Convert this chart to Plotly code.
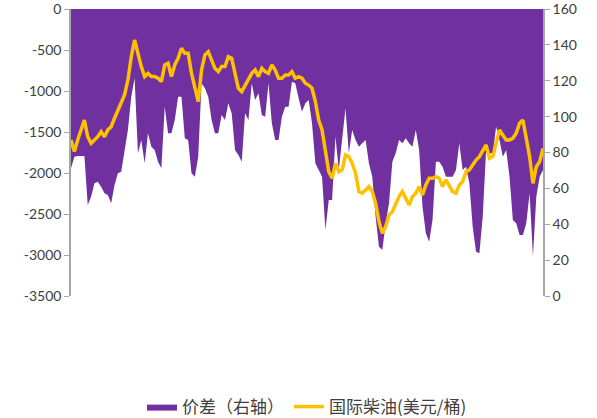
import plotly.graph_objects as go

# Price spread (plotted on left axis, filled up to 0 at top)
spread = [
    -1943, -1801, -1793, -1793, -1793, -2390, -2289, -2126, -2106, -2167,
    -2248, -2268, -2370, -2146, -2004, -1984, -1719, -1476, -1069, -845,
    -1760, -1597, -1882, -1516, -1679, -1719, -1862, -1943, -1191, -1516,
    -1516, -1354, -1069, -1069, -1577, -1597,
    -2004, -2045, -1801, -906, -967, -1069, -1354, -1516, -1516, -1293,
    -1354, -1150, -1272, -1719, -1780, -1862, -1272, -1354, -906, -1110,
    -1028, -1293, -1313, -906, -1394, -1597, -1597, -1313, -1191, -1191,
    -886, -906, -1089, -1252,
    -1150, -1110, -1394, -1882, -1963, -2045, -2695, -2329, -2329, -1557,
    -1963, -1597, -1211, -1760, -1476, -1597, -1679, -1638, -1597, -1882,
    -2045, -2532, -2898, -2939, -2614, -2370, -1862, -1760, -1597, -1638,
    -1577, -1638, -1679, -1476, -1719,
    -2410, -2736, -2837, -2573, -1862, -1862, -1923, -2045, -2045, -2045,
    -1963, -1638, -1963, -1923, -2126, -2654, -2959, -2980, -2532, -1719,
    -1760, -1760, -1435, -1597, -1801, -1719, -2045, -2573, -2614, -2756,
    -2756, -2614, -2248, -3020, -2289, -2045, -1963,
]

# International diesel price (USD/bbl), right axis
diesel = [
    87.0, 80.5, 87.0, 92.6, 98.1, 88.8, 85.1, 87.0, 88.8, 91.6,
    88.8, 92.6, 94.4, 99.1, 103.7, 108.4, 112.1, 120.4, 133.4, 142.7,
    134.4, 127.9, 122.3, 124.1, 122.3, 122.3, 121.4, 119.5, 128.8, 129.7,
    122.3, 128.8, 132.5, 138.1, 135.3, 135.3,
    124.1, 115.8, 108.4, 126.0, 134.4, 136.2, 131.6, 126.9, 125.1, 127.9,
    127.9, 133.4, 132.5, 124.1, 115.8, 113.9, 117.6, 121.4, 124.1, 126.0,
    122.3, 126.9, 125.1, 124.1, 128.8, 126.0, 121.4, 121.4, 123.2, 123.2,
    125.1, 121.4, 122.3, 121.4,
    118.6, 117.6, 115.8, 108.4, 98.1, 92.6, 79.6, 69.3, 65.6, 74.0,
    69.3, 70.3, 78.6, 77.7, 74.0, 68.4, 58.2, 57.3, 59.1, 61.0,
    58.2, 51.7, 41.5, 35.0, 38.7, 45.2, 47.0, 51.7, 55.4, 58.2,
    54.5, 50.7, 55.4, 57.3, 61.0,
    56.3, 61.9, 65.6, 65.6, 66.5, 65.6, 61.0, 64.7, 61.0, 58.2,
    57.3, 61.9, 63.8, 69.3, 70.3, 73.1, 75.8, 77.7, 81.4, 84.2,
    76.8, 77.7, 85.1, 92.6, 89.8, 87.0, 87.0, 87.9, 90.7, 96.3,
    98.1, 88.8, 77.7, 62.8, 72.1, 74.9, 82.3,
]

x = list(range(len(spread)))

left_ticks = [0, -500, -1000, -1500, -2000, -2500, -3000, -3500]
left_labels = ["0", "-500", "-1000", "-1500", "-2000", "-2500", "-3000", "-3500"]
right_ticks = [0, 20, 40, 60, 80, 100, 120, 140, 160]

fig = go.Figure()
fig.add_trace(go.Scatter(
    x=x, y=spread, name="价差（右轴）", mode="lines",
    line=dict(width=0, color="#7030A0"), fill="tozeroy",
    fillcolor="#7030A0", yaxis="y",
))
fig.add_trace(go.Scatter(
    x=x, y=diesel, name="国际柴油(美元/桶)", mode="lines",
    line=dict(width=3.5, color="#FFC000"), yaxis="y2",
))

axis_font = dict(family="Lato, Carlito, Liberation Sans, sans-serif", size=14, color="#404040")
fig.update_layout(
    width=597, height=418,
    margin=dict(l=71, r=54, t=9, b=122, autoexpand=False),
    paper_bgcolor="white", plot_bgcolor="white",
    showlegend=True,
    legend=dict(orientation="h", x=0.5, xanchor="center", y=-0.387, yanchor="middle",
                font=dict(family="Noto Sans CJK SC", size=17, color="#404040"),
                itemwidth=30, tracegroupgap=0),
    xaxis=dict(range=[0, len(x) - 1], showticklabels=False, showgrid=False,
               zeroline=False, showline=False, ticks=""),
    yaxis=dict(range=[-3500, 0], tickvals=left_ticks, ticktext=left_labels,
               showgrid=False, zeroline=False, automargin=False,
               showline=True, linecolor="#A6A6A6", linewidth=1.5, ticks="outside",
               ticklen=5, tickcolor="#A6A6A6", tickfont=axis_font,
               ticklabeloverflow="allow"),
    yaxis2=dict(range=[0, 160], tickvals=right_ticks, overlaying="y", side="right",
                showgrid=False, zeroline=False, showline=True, linecolor="#A6A6A6",
                linewidth=1.5, ticks="outside", ticklen=5, tickcolor="#A6A6A6",
                tickfont=axis_font, automargin=False, ticklabeloverflow="allow"),
)

fig.write_html("out.html", config={"displayModeBar": False},
               post_script="document.body.style.margin='0';document.body.style.overflow='hidden';")
